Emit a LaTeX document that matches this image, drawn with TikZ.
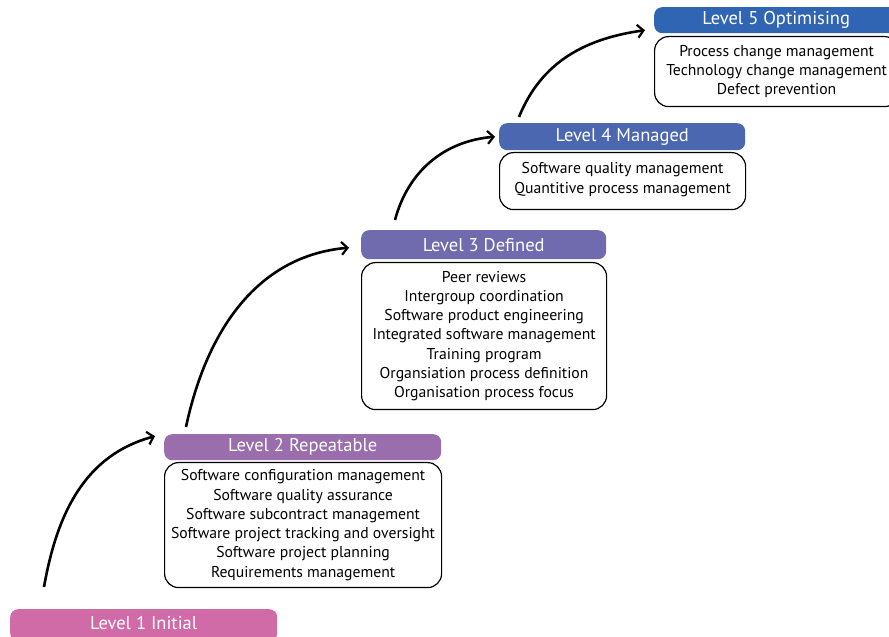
\documentclass[tikz,border=0pt]{standalone}
\usepackage{fontspec}
\setmainfont{PT Sans}
\usetikzlibrary{arrows.meta}

\definecolor{lvone}{HTML}{D16BA8}
\definecolor{lvtwo}{HTML}{9A6DAD}
\definecolor{lvthree}{HTML}{706AAE}
\definecolor{lvfour}{HTML}{4B67B0}
\definecolor{lvfive}{HTML}{2F65B2}

\begin{document}
\begin{tikzpicture}[x=1pt,y=1pt,
  head/.style={fill=#1, rounded corners=8pt, text=white, anchor=north west,
    inner sep=0pt, font=\fontsize{18.5}{22}\selectfont},
  items/.style={draw=black, line width=1.2pt, rounded corners=14pt, anchor=north west,
    inner sep=0pt, align=center, font=\fontsize{15.7}{19.3}\selectfont},
  stepup/.style={line width=2.6pt, -{Straight Barb[length=6pt,width=13pt,line width=2.2pt]}}
]
\useasboundingbox (0,0) rectangle (889,637);

% level headers
\node[head=lvone, minimum width=267, minimum height=32] (h1) at (10,28) {\raisebox{5pt}{Level 1 Initial}};
\node[head=lvtwo, minimum width=277, minimum height=26] (h2) at (164,203) {Level 2 Repeatable};
\node[head=lvthree, minimum width=245, minimum height=29] (h3) at (361,407) {Level 3 Defined};
\node[head=lvfour, minimum width=246, minimum height=27] (h4) at (499,514) {Level 4 Managed};
\node[head=lvfive, minimum width=244, minimum height=26] (h5) at (654,630) {Level 5 Optimising};

% key process areas of each level
\node[items, minimum width=277, minimum height=125] (b2) at (164,175) {%
  Software configuration management\\
  Software quality assurance\\
  Software subcontract management\\
  Software project tracking and oversight\\
  Software project planning\\
  Requirements management};
\node[items, minimum width=245, minimum height=147] (b3) at (361,375) {%
  Peer reviews\\
  Intergroup coordination\\
  Software product engineering\\
  Integrated software management\\
  Training program\\
  Organsiation process definition\\
  Organisation process focus};
\node[items, minimum width=246, minimum height=57] (b4) at (499,485) {%
  Software quality management\\
  Quantitive process management\\[-13pt]};
\node[items, minimum width=244, minimum height=70] (b5) at (654,601) {%
  Process change management\\
  Technology change management\\
  Defect prevention};

% arrows climbing from one level to the next
\coordinate (s1) at (44,50);
\coordinate (s2) at (186,210);
\coordinate (s3) at (395,417);
\coordinate (s4) at (519,520);
\draw[stepup] (s1) to[out=80,in=195] ([shift={(-9,11)}]h2.west);
\draw[stepup] (s2) to[out=78,in=185] ([shift={(-12,-3)}]h3.west);
\draw[stepup] (s3) to[out=75,in=185] ([shift={(-4,0)}]h4.west);
\draw[stepup] (s4) to[out=68,in=188] ([shift={(-9,-10)}]h5.west);
\end{tikzpicture}
\end{document}
